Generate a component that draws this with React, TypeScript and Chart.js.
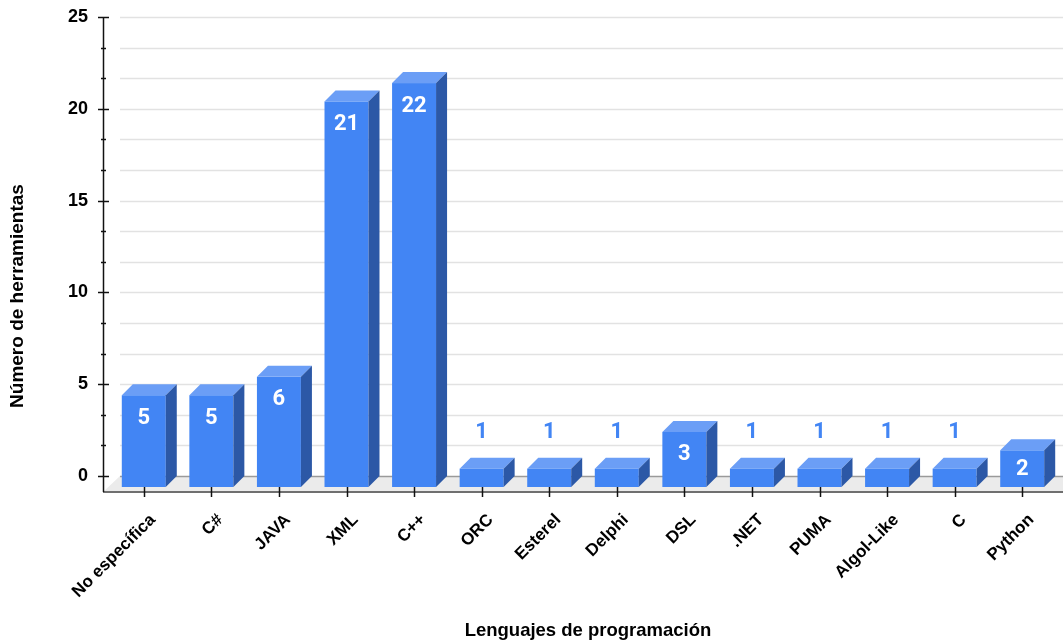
import React, { useEffect, useRef } from "react";
import { Chart, registerables } from "chart.js";

Chart.register(...registerables);

// Languages and how many tools use each one
const categories = [
  "No específica",
  "C#",
  "JAVA",
  "XML",
  "C++",
  "ORC",
  "Esterel",
  "Delphi",
  "DSL",
  ".NET",
  "PUMA",
  "Algol-Like",
  "C",
  "Python",
];
const toolCounts = [5, 5, 6, 21, 22, 1, 1, 1, 3, 1, 1, 1, 1, 2];

const yMin = 0;
const yMax = 25;
const yMajorStep = 5;
const yMinorStep = 5 / 3;

const xAxisTitle = "Lenguajes de programación";
const yAxisTitle = "Número de herramientas";

const FRONT = "#4285F4";
const TOP = "#6B9EF6";
const SIDE = "#2C58A6";
const LABEL_BLUE = "#4285F4";
const TEXT = "#000000";
const AXIS_FONT = "'Liberation Sans', Arial, sans-serif";
const VALUE_FONT = "Roboto, 'Liberation Sans', sans-serif";

// 3D geometry (pixels)
const BAR_DEPTH = 11; // bar front face is shifted down-left from the back wall
const FLOOR_DX = 17;
const FLOOR_DY = 16;

const box3dPlugin = {
  id: "box3d",
  beforeDatasetsDraw(chart: any) {
    const { ctx, chartArea, scales, width } = chart;
    const y = scales.y;
    const base = y.getPixelForValue(0);
    const frontLeft = chartArea.left - 7;
    const backLeft = frontLeft + FLOOR_DX;
    ctx.save();

    // floor
    ctx.fillStyle = "#ebebeb";
    ctx.beginPath();
    ctx.moveTo(frontLeft, base + FLOOR_DY);
    ctx.lineTo(backLeft, base);
    ctx.lineTo(width, base);
    ctx.lineTo(width, base + FLOOR_DY);
    ctx.closePath();
    ctx.fill();

    // back-wall grid
    const steps = Math.round((yMax - yMin) / yMinorStep);
    for (let k = 1; k <= steps; k++) {
      const py = Math.round(y.getPixelForValue(yMin + k * yMinorStep)) + 0.5;
      ctx.strokeStyle = "#e2e2e2";
      ctx.lineWidth = 1.5;
      ctx.beginPath();
      ctx.moveTo(backLeft, py);
      ctx.lineTo(width, py);
      ctx.stroke();
    }
    // floor back edge
    ctx.strokeStyle = "#9a9a9a";
    ctx.lineWidth = 1.5;
    ctx.beginPath();
    ctx.moveTo(backLeft, Math.round(base) + 0.5);
    ctx.lineTo(width, Math.round(base) + 0.5);
    ctx.stroke();
    // floor front edge
    ctx.strokeStyle = "#6f6f6f";
    ctx.lineWidth = 2;
    ctx.beginPath();
    ctx.moveTo(frontLeft, base + FLOOR_DY);
    ctx.lineTo(width, base + FLOOR_DY);
    ctx.stroke();

    // vertical axis line
    const ax = Math.round(frontLeft) + 0.5;
    ctx.strokeStyle = "#111";
    ctx.lineWidth = 1.5;
    ctx.beginPath();
    ctx.moveTo(ax, y.getPixelForValue(yMax));
    ctx.lineTo(ax, base + FLOOR_DY);
    ctx.stroke();

    // axis tick marks
    for (let k = 0; k <= steps; k++) {
      const v = yMin + k * yMinorStep;
      const py = Math.round(y.getPixelForValue(v)) + 0.5;
      const major = k % 3 === 0;
      ctx.beginPath();
      ctx.moveTo(ax - (major ? 5.5 : 2.5), py);
      ctx.lineTo(ax + (major ? 5.5 : 2.5), py);
      ctx.stroke();
    }
    ctx.restore();
  },
  afterDatasetsDraw(chart: any) {
    const { ctx } = chart;
    const meta = chart.getDatasetMeta(0);
    ctx.save();
    meta.data.forEach((el: any, i: number) => {
      const half = el.width / 2;
      const x0 = el.x - half;
      const x1 = el.x + half;
      const yTop = el.y + BAR_DEPTH;
      const yBot = el.base + BAR_DEPTH;
      // front face
      ctx.fillStyle = FRONT;
      ctx.fillRect(x0, yTop, x1 - x0, yBot - yTop);
      // top face
      ctx.fillStyle = TOP;
      ctx.beginPath();
      ctx.moveTo(x0, yTop);
      ctx.lineTo(x0 + BAR_DEPTH, el.y);
      ctx.lineTo(x1 + BAR_DEPTH, el.y);
      ctx.lineTo(x1, yTop);
      ctx.closePath();
      ctx.fill();
      // side face
      ctx.fillStyle = SIDE;
      ctx.beginPath();
      ctx.moveTo(x1, yTop);
      ctx.lineTo(x1 + BAR_DEPTH, el.y);
      ctx.lineTo(x1 + BAR_DEPTH, el.base);
      ctx.lineTo(x1, yBot);
      ctx.closePath();
      ctx.fill();

      // value label
      const h = yBot - yTop;
      ctx.font = `bold 22px ${VALUE_FONT}`;
      ctx.textAlign = "center";
      ctx.textBaseline = "middle";
      let ly: number;
      if (h < 30) {
        ctx.fillStyle = LABEL_BLUE;
        ly = el.y - 25;
      } else {
        ctx.fillStyle = "#ffffff";
        ly = h < 50 ? (yTop + yBot) / 2 + 1 : yTop + 23;
      }
      ctx.fillText(String(toolCounts[i]), el.x, ly);

      // category tick
      ctx.strokeStyle = "#111";
      ctx.lineWidth = 1.5;
      const tx = Math.round(el.x) + 0.5;
      ctx.beginPath();
      ctx.moveTo(tx, yBot);
      ctx.lineTo(tx, yBot + 10);
      ctx.stroke();
    });
    ctx.restore();
  },
  afterDraw(chart: any) {
    const { ctx } = chart;
    ctx.save();
    ctx.fillStyle = TEXT;
    ctx.font = `bold 18.5px ${AXIS_FONT}`;
    ctx.textAlign = "center";
    ctx.textBaseline = "middle";
    ctx.fillText(xAxisTitle, 588, 631);
    ctx.font = `bold 19px ${AXIS_FONT}`;
    ctx.translate(18, 296);
    ctx.rotate(-Math.PI / 2);
    ctx.fillText(yAxisTitle, 0, 0);
    ctx.restore();
  },
};

export default function App() {
  const canvasRef = useRef<HTMLCanvasElement | null>(null);

  useEffect(() => {
    const canvas = canvasRef.current;
    if (!canvas) return;
    const chart = new Chart(canvas, {
      type: "bar",
      data: {
        labels: categories,
        datasets: [
          {
            label: yAxisTitle,
            data: toolCounts,
            backgroundColor: "rgba(0,0,0,0)",
            borderWidth: 0,
            categoryPercentage: 1,
            barPercentage: 0.651,
          },
        ],
      },
      options: {
        responsive: false,
        animation: false,
        events: [],
        layout: { padding: { left: 0, top: 17, right: 7, bottom: 0 } },
        plugins: {
          legend: { display: false },
          tooltip: { enabled: false },
          title: { display: false },
        },
        scales: {
          x: {
            grid: { display: false, drawTicks: false },
            border: { display: false },
            ticks: {
              autoSkip: false,
              minRotation: 45,
              maxRotation: 45,
              labelOffset: 9,
              padding: 34,
              color: TEXT,
              font: { family: AXIS_FONT, size: 17, weight: "bold" },
            },
            afterFit(scale: any) {
              scale.height = 165;
              scale.paddingLeft = 0;
              scale.paddingRight = 0;
              scale.paddingTop = 0;
              scale.paddingBottom = 0;
            },
          },
          y: {
            min: yMin,
            max: yMax,
            grid: { display: false, drawTicks: false },
            border: { display: false },
            ticks: {
              stepSize: yMajorStep,
              padding: 22,
              color: TEXT,
              font: { family: AXIS_FONT, size: 18, weight: "bold" },
            },
            afterFit(scale: any) {
              scale.width = 110;
              scale.paddingLeft = 0;
              scale.paddingRight = 0;
              scale.paddingTop = 0;
              scale.paddingBottom = 0;
            },
          },
        },
      },
      plugins: [box3dPlugin],
    });
    return () => chart.destroy();
  }, []);

  return (
    <div style={{ position: "absolute", left: 0, top: 0, width: 1063, height: 641, background: "#fff" }}>
      <canvas ref={canvasRef} width={1063} height={641} style={{ display: "block" }} />
    </div>
  );
}
